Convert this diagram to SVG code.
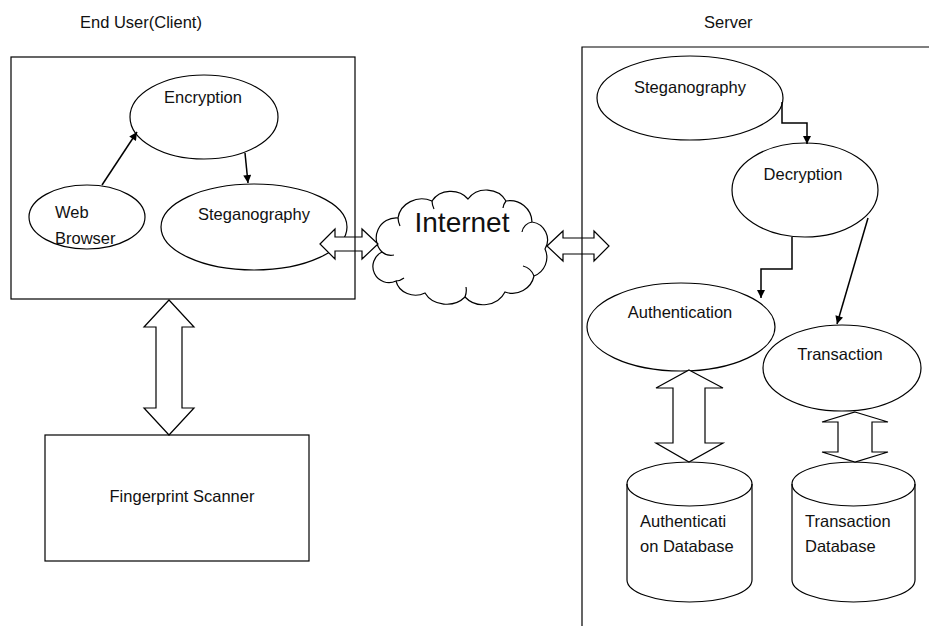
<svg xmlns="http://www.w3.org/2000/svg" width="929" height="626" viewBox="0 0 929 626">
<defs>
<marker id="ah" viewBox="0 0 10 10" refX="10" refY="5" markerWidth="9" markerHeight="8" markerUnits="userSpaceOnUse" orient="auto">
<path d="M0,0 L10,5 L0,10 z" fill="#000"/>
</marker>
<style>
.sh{fill:#fff;stroke:#000;stroke-width:1.2}
.fr{fill:none;stroke:#000;stroke-width:1.2}
.ln{fill:none;stroke:#000;stroke-width:1.5;marker-end:url(#ah)}
.blk{fill:#fff;stroke:#000;stroke-width:1.2;stroke-linejoin:miter}
text{font-family:"Liberation Sans",Arial,sans-serif;font-size:16.5px;fill:#111}
.c{text-anchor:middle}
</style>
</defs>
<rect width="929" height="626" fill="#fff"/>

<text x="80" y="28">End User(Client)</text>
<text x="704" y="28">Server</text>

<g id="encryption"><ellipse class="sh" cx="204" cy="117" rx="74" ry="42"/><text class="c" x="203" y="103">Encryption</text></g>
<g id="web-browser"><ellipse class="sh" cx="87" cy="217" rx="58" ry="32"/><text x="55" y="218">Web</text><text x="55" y="244">Browser</text></g>
<g id="client-steganography"><ellipse class="sh" cx="254" cy="227" rx="93" ry="43"/><text class="c" x="254" y="220">Steganography</text></g>

<g id="internet">
<path class="sh" d="M382,252 A20,20 0 0 1 398,218 A24,22 0 0 1 432,201 A22,20 0 0 1 468,199 A22,20 0 0 1 506,201 A22,22 0 0 1 532,222 A18,18 0 0 1 545,249 A20,20 0 0 1 534,276 A22,22 0 0 1 505,292 A24,22 0 0 1 465,297 A24,20 0 0 1 425,293 A20,18 0 0 1 396,281 A16,16 0 0 1 382,252 Z"/>
<path class="fr" d="M398,218 A22,22 0 0 0 400,226 M432,201 A20,20 0 0 0 434,209 M506,201 A14,14 0 0 0 503,208 M532,222 A12,12 0 0 0 522,232 M534,276 A16,16 0 0 0 523,266 M465,297 A18,18 0 0 0 466,287 M396,281 A14,14 0 0 0 404,278 M382,252 A14,14 0 0 0 394,255"/>
<text class="c" x="462" y="232" style="font-size:28px">Internet</text>
</g>

<g id="fingerprint-scanner"><rect class="sh" x="45" y="435" width="264" height="126"/><text class="c" x="182" y="502">Fingerprint Scanner</text></g>

<g id="server-steganography"><ellipse class="sh" cx="690" cy="98" rx="93" ry="42"/><text class="c" x="690" y="93">Steganography</text></g>
<g id="decryption"><ellipse class="sh" cx="805" cy="190" rx="73" ry="47"/><text class="c" x="803" y="180">Decryption</text></g>
<g id="authentication"><ellipse class="sh" cx="681" cy="327" rx="94" ry="44"/><text class="c" x="680" y="318">Authentication</text></g>
<g id="transaction"><ellipse class="sh" cx="842" cy="368" rx="79" ry="43"/><text class="c" x="840" y="360">Transaction</text></g>

<g id="authentication-database">
<path class="sh" d="M627,484 A62.5,22 0 0 1 752,484 V580 A62.5,22 0 0 1 627,580 Z"/>
<path class="fr" d="M627,484 A62.5,22 0 0 0 752,484"/>
<text x="640" y="527">Authenticati</text><text x="640" y="552">on Database</text>
</g>
<g id="transaction-database">
<path class="sh" d="M792,484 A61.5,22 0 0 1 915,484 V580 A61.5,22 0 0 1 792,580 Z"/>
<path class="fr" d="M792,484 A61.5,22 0 0 0 915,484"/>
<text x="805" y="527">Transaction</text><text x="805" y="552">Database</text>
</g>

<g id="connectors">
<line class="ln" x1="102" y1="185" x2="137" y2="132"/>
<line class="ln" x1="245" y1="153" x2="248" y2="183"/>
<polyline class="ln" points="782,102 782,123 807,123 807,144"/>
<polyline class="ln" points="792,237 792,269 761,269 761,298"/>
<line class="ln" x1="868" y1="218" x2="837" y2="324"/>
<polygon class="blk" points="320,244 335,229 335,237 362,237 362,229 378,244 362,259 362,251 335,251 335,259"/>
<polygon class="blk" points="547,246 563,231 563,238 594,238 594,231 609,246 594,261 594,254 563,254 563,261"/>
<polygon class="blk" points="169,300 194,327 182,327 182,408 194,408 169,435 144,408 156,408 156,327 144,327"/>
<polygon class="blk" points="689,370 723,388 705,388 705,443 723,443 689,462 656,443 673,443 673,388 656,388"/>
<polygon class="blk" points="855,412 888,422 872,422 872,452 888,452 855,462 822,452 838,452 838,422 822,422"/>
</g>

<g id="client-frame"><rect class="fr" x="11" y="57" width="344" height="242"/></g>
<g id="server-frame"><polyline class="fr" points="582,626 582,47 929,47"/></g>
</svg>
